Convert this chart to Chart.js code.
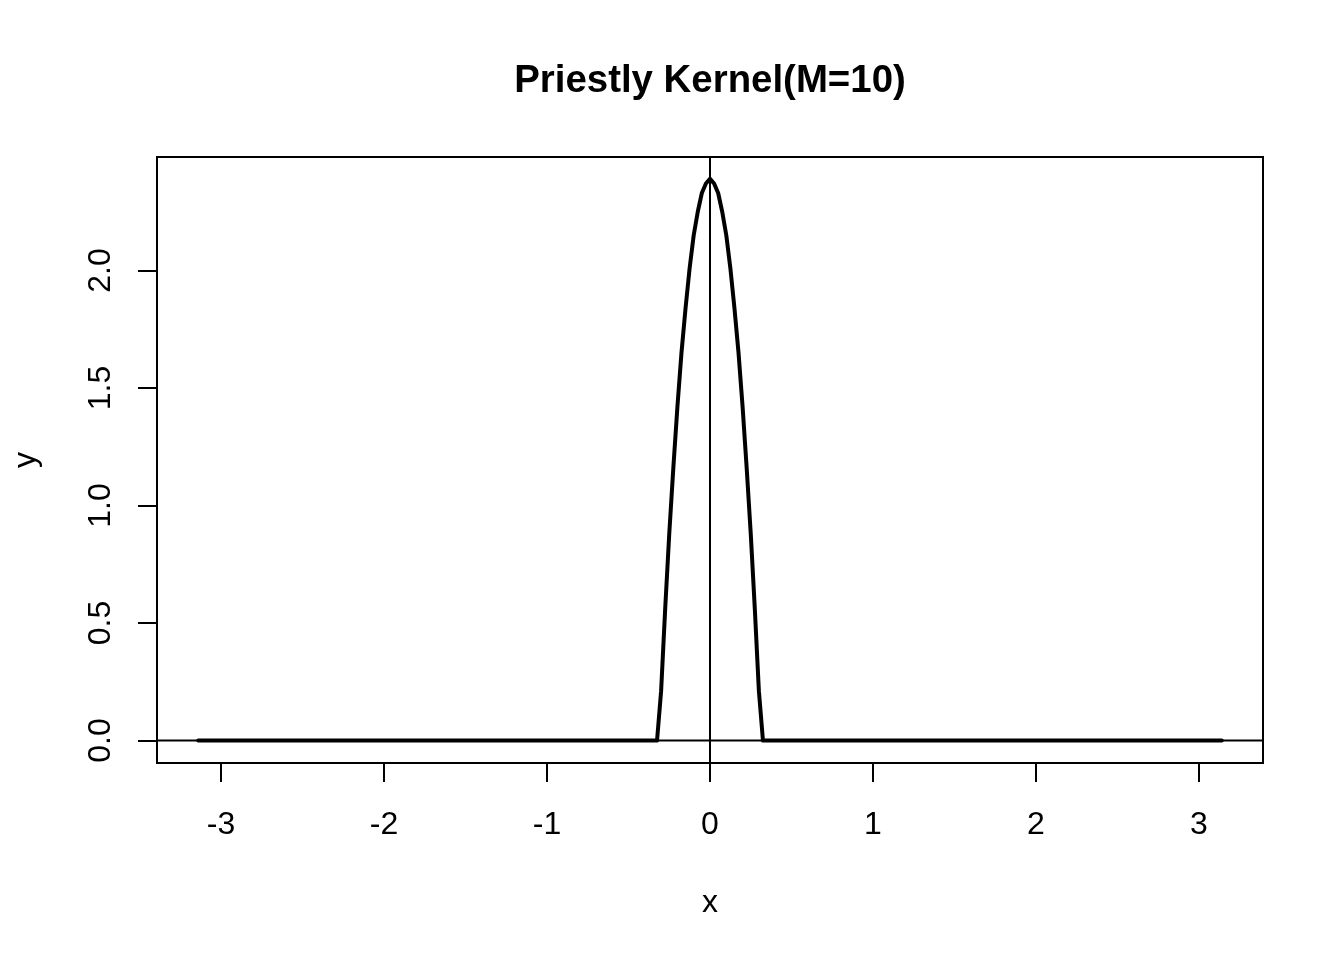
<!DOCTYPE html>
<html>
<head>
<meta charset="utf-8">
<script src="https://cdn.jsdelivr.net/npm/chart.js@4.4.1/dist/chart.umd.min.js"></script>
<style>
  html, body { margin: 0; padding: 0; background: #ffffff; }
  #wrap { width: 1344px; height: 960px; }
</style>
</head>
<body>
<div id="wrap"><canvas id="c" width="1344" height="960"></canvas></div>
<script>
// ---- data ----
const curveX = [-3.14, -0.325, -0.30, -0.275, -0.25, -0.225, -0.20, -0.175, -0.15, -0.125, -0.10, -0.075, -0.05, -0.025, 0.00,
                0.025, 0.05, 0.075, 0.10, 0.125, 0.15, 0.175, 0.20, 0.225, 0.25, 0.275, 0.30, 0.325, 3.14];
const curveY = [0, 0, 0.21, 0.56, 0.88, 1.16, 1.42, 1.65, 1.84, 2.01, 2.15, 2.25, 2.33, 2.37, 2.39,
                2.37, 2.33, 2.25, 2.15, 2.01, 1.84, 1.65, 1.42, 1.16, 0.88, 0.56, 0.21, 0, 0];
const xTicks = [-3, -2, -1, 0, 1, 2, 3];
const xTickLabels = ["-3", "-2", "-1", "0", "1", "2", "3"];
const yTicks = [0, 0.5, 1.0, 1.5, 2.0];
const yTickLabels = ["0.0", "0.5", "1.0", "1.5", "2.0"];
const xLimits = [-3.393, 3.393];
const yLimits = [-0.0955, 2.483];
const hLineY = 0;
const vLineX = 0;
const titleText = "Priestly Kernel(M=10)";
const xLabel = "x";
const yLabel = "y";

const FONT = "'Liberation Sans', Arial, Helvetica, sans-serif";

const curveData = curveX.map((x, i) => ({ x: x, y: curveY[i] }));
const hLineData = xLimits.map(x => ({ x: x, y: hLineY }));
const vLineData = yLimits.map(y => ({ x: vLineX, y: y }));

const boxPlugin = {
  id: 'rbox',
  afterDatasetsDraw(chart) {
    const a = chart.chartArea;
    const ctx = chart.ctx;
    ctx.save();
    ctx.strokeStyle = '#000000';
    ctx.lineWidth = 2;
    ctx.strokeRect(a.left, a.top, a.right - a.left, a.bottom - a.top);
    ctx.restore();
  }
};

new Chart(document.getElementById('c'), {
  type: 'line',
  data: {
    datasets: [
      { data: curveData, borderColor: '#000000', borderWidth: 4, pointRadius: 0, tension: 0, fill: false, borderJoinStyle: 'round', borderCapStyle: 'round' },
      { data: hLineData, borderColor: '#000000', borderWidth: 2, pointRadius: 0, fill: false },
      { data: vLineData, borderColor: '#000000', borderWidth: 2, pointRadius: 0, fill: false }
    ]
  },
  plugins: [boxPlugin],
  options: {
    responsive: false,
    animation: false,
    parsing: true,
    layout: { padding: { left: 0, right: 81, top: 0, bottom: 0 } },
    plugins: {
      legend: { display: false },
      tooltip: { enabled: false },
      title: {
        display: true,
        text: titleText,
        fullSize: false,
        color: '#000000',
        font: { family: FONT, size: 38.4, weight: 'bold', lineHeight: 1.2 },
        padding: { top: 58.4, bottom: 52.52 }
      }
    },
    scales: {
      x: {
        type: 'linear',
        position: 'bottom',
        min: xLimits[0],
        max: xLimits[1],
        afterFit(s) { s.height = 197; },
        afterBuildTicks(s) { s.ticks = xTicks.map(v => ({ value: v })); },
        border: { display: false },
        grid: { drawOnChartArea: false, drawTicks: true, tickLength: 19, color: '#000000', lineWidth: 2 },
        ticks: {
          autoSkip: false, maxRotation: 0, minRotation: 0, padding: 24, color: '#000000',
          font: { family: FONT, size: 32, lineHeight: 1.2 },
          callback(v, i) { return xTickLabels[i]; }
        },
        title: {
          display: true, text: xLabel, color: '#000000',
          font: { family: FONT, size: 32, lineHeight: 1.2 },
          padding: { top: 0, bottom: 37.8 }
        }
      },
      y: {
        type: 'linear',
        position: 'left',
        min: yLimits[0],
        max: yLimits[1],
        afterFit(s) { s.width = 157; },
        afterBuildTicks(s) { s.ticks = yTicks.map(v => ({ value: v })); },
        border: { display: false },
        grid: { drawOnChartArea: false, drawTicks: true, tickLength: 19, color: '#000000', lineWidth: 2 },
        ticks: {
          autoSkip: false, minRotation: 90, maxRotation: 90, crossAlign: 'center', padding: 14.2, color: '#000000',
          font: { family: FONT, size: 32, lineHeight: 1.2 },
          callback(v, i) { return yTickLabels[i]; }
        },
        title: {
          display: true, text: yLabel, color: '#000000',
          font: { family: FONT, size: 32, lineHeight: 1.2 },
          padding: { top: 7, bottom: 0 }
        }
      }
    }
  }
});
</script>
</body>
</html>
